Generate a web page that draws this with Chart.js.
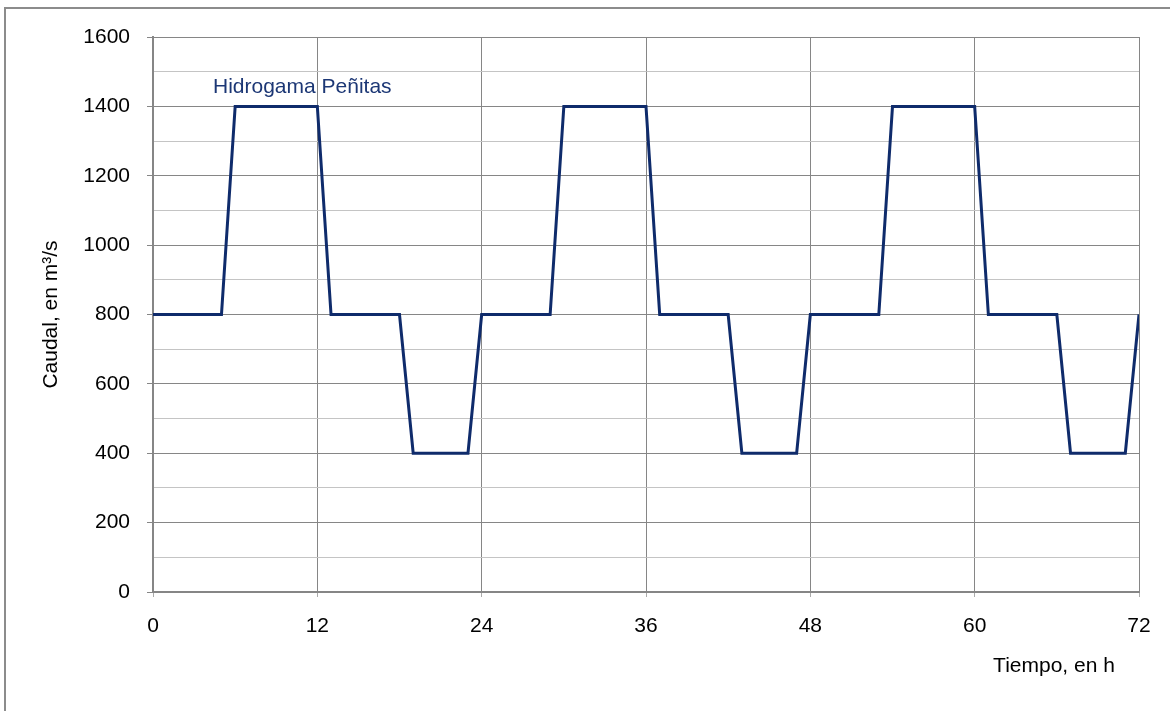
<!DOCTYPE html>
<html>
<head>
<meta charset="utf-8">
<script src="https://cdn.jsdelivr.net/npm/chart.js@4"></script>
<style>
  html, body { margin: 0; padding: 0; background: #fff; overflow: hidden; }
  #wrap { position: relative; width: 1170px; height: 711px; }
  #frame { position: absolute; left: 4px; top: 7px; width: 1200px; height: 800px; border: 2px solid #8c8c8c; box-sizing: border-box; pointer-events: none; }
  canvas { position: absolute; left: 0; top: 0; }
</style>
</head>
<body>
<div id="wrap">
  <div id="frame"></div>
  <canvas id="hydroChart" width="1170" height="711"></canvas>
</div>
<script>
// Horas donde cambia el caudal (esquinas de la hidrograma)
const hours = [0, 5, 6, 12, 13, 18, 19, 23, 24, 29, 30, 36, 37, 42, 43, 47, 48, 53, 54, 60, 61, 66, 67, 71, 72];
// Caudal en m3/s en cada una de esas horas
const flows = [800, 800, 1400, 1400, 800, 800, 400, 400, 800, 800, 1400, 1400, 800, 800, 400, 400, 800, 800, 1400, 1400, 800, 800, 400, 400, 800];

const seriesLabel = "Hidrogama Peñitas";
const yTitle = "Caudal, en m³/s";
const xTitle = "Tiempo, en h";

const fontFamily = "'Liberation Sans', Arial, sans-serif";
const fontSize = 21;
const navy = "#0f2b6b";
const majorGrid = "#868686";
const minorGrid = "#c4c4c4";

// Texts drawn on top: series label and x-axis title
const textPlugin = {
    id: "extraText",
    afterDraw(chart) {
        const ctx = chart.ctx;
        const area = chart.chartArea;
        ctx.save();
        ctx.font = fontSize + "px " + fontFamily;
        ctx.textBaseline = "alphabetic";
        ctx.textAlign = "left";
        ctx.fillStyle = "#1c3775";
        ctx.fillText(seriesLabel, area.left + 60, 93);
        ctx.fillStyle = "#000";
        ctx.textAlign = "center";
        ctx.fillText(xTitle, area.right - 85, 672);
        ctx.restore();
    }
};

new Chart(document.getElementById("hydroChart"), {
    type: "line",
    data: {
        datasets: [{
            label: seriesLabel,
            data: hours.map((h, i) => ({ x: h, y: flows[i] })),
            borderColor: navy,
            borderWidth: 3,
            pointRadius: 0,
            tension: 0,
            fill: false
        }]
    },
    options: {
        responsive: false,
        animation: false,
        devicePixelRatio: 1,
        layout: { padding: { top: 37, right: 31, left: 0, bottom: 0 } },
        plugins: {
            legend: { display: false },
            tooltip: { enabled: false }
        },
        scales: {
            x: {
                type: "linear",
                min: 0,
                max: 72,
                afterFit: s => { s.height = 119; },
                ticks: {
                    stepSize: 12,
                    color: "#000",
                    padding: 17,
                    font: { family: fontFamily, size: fontSize }
                },
                grid: {
                    color: majorGrid,
                    lineWidth: 1,
                    tickLength: 5,
                    tickColor: "#aaaaaa"
                },
                border: { color: majorGrid, width: 2 }
            },
            y: {
                min: 0,
                max: 1600,
                afterFit: s => { s.width = 153; },
                ticks: {
                    stepSize: 100,
                    color: "#000",
                    padding: 17,
                    autoSkip: false,
                    font: { family: fontFamily, size: fontSize },
                    callback: v => (v % 200 === 0 ? v : "")
                },
                grid: {
                    color: c => (c.tick && c.tick.value % 200 === 0 ? majorGrid : minorGrid),
                    tickColor: c => (c.tick && c.tick.value % 200 === 0 ? majorGrid : "rgba(0,0,0,0)"),
                    lineWidth: 1,
                    tickLength: 6
                },
                border: { color: majorGrid, width: 2 },
                title: {
                    display: true,
                    text: yTitle,
                    color: "#000",
                    font: { family: fontFamily, size: fontSize },
                    padding: { top: 39, bottom: 0 }
                }
            }
        }
    },
    plugins: [textPlugin]
});
</script>
</body>
</html>
